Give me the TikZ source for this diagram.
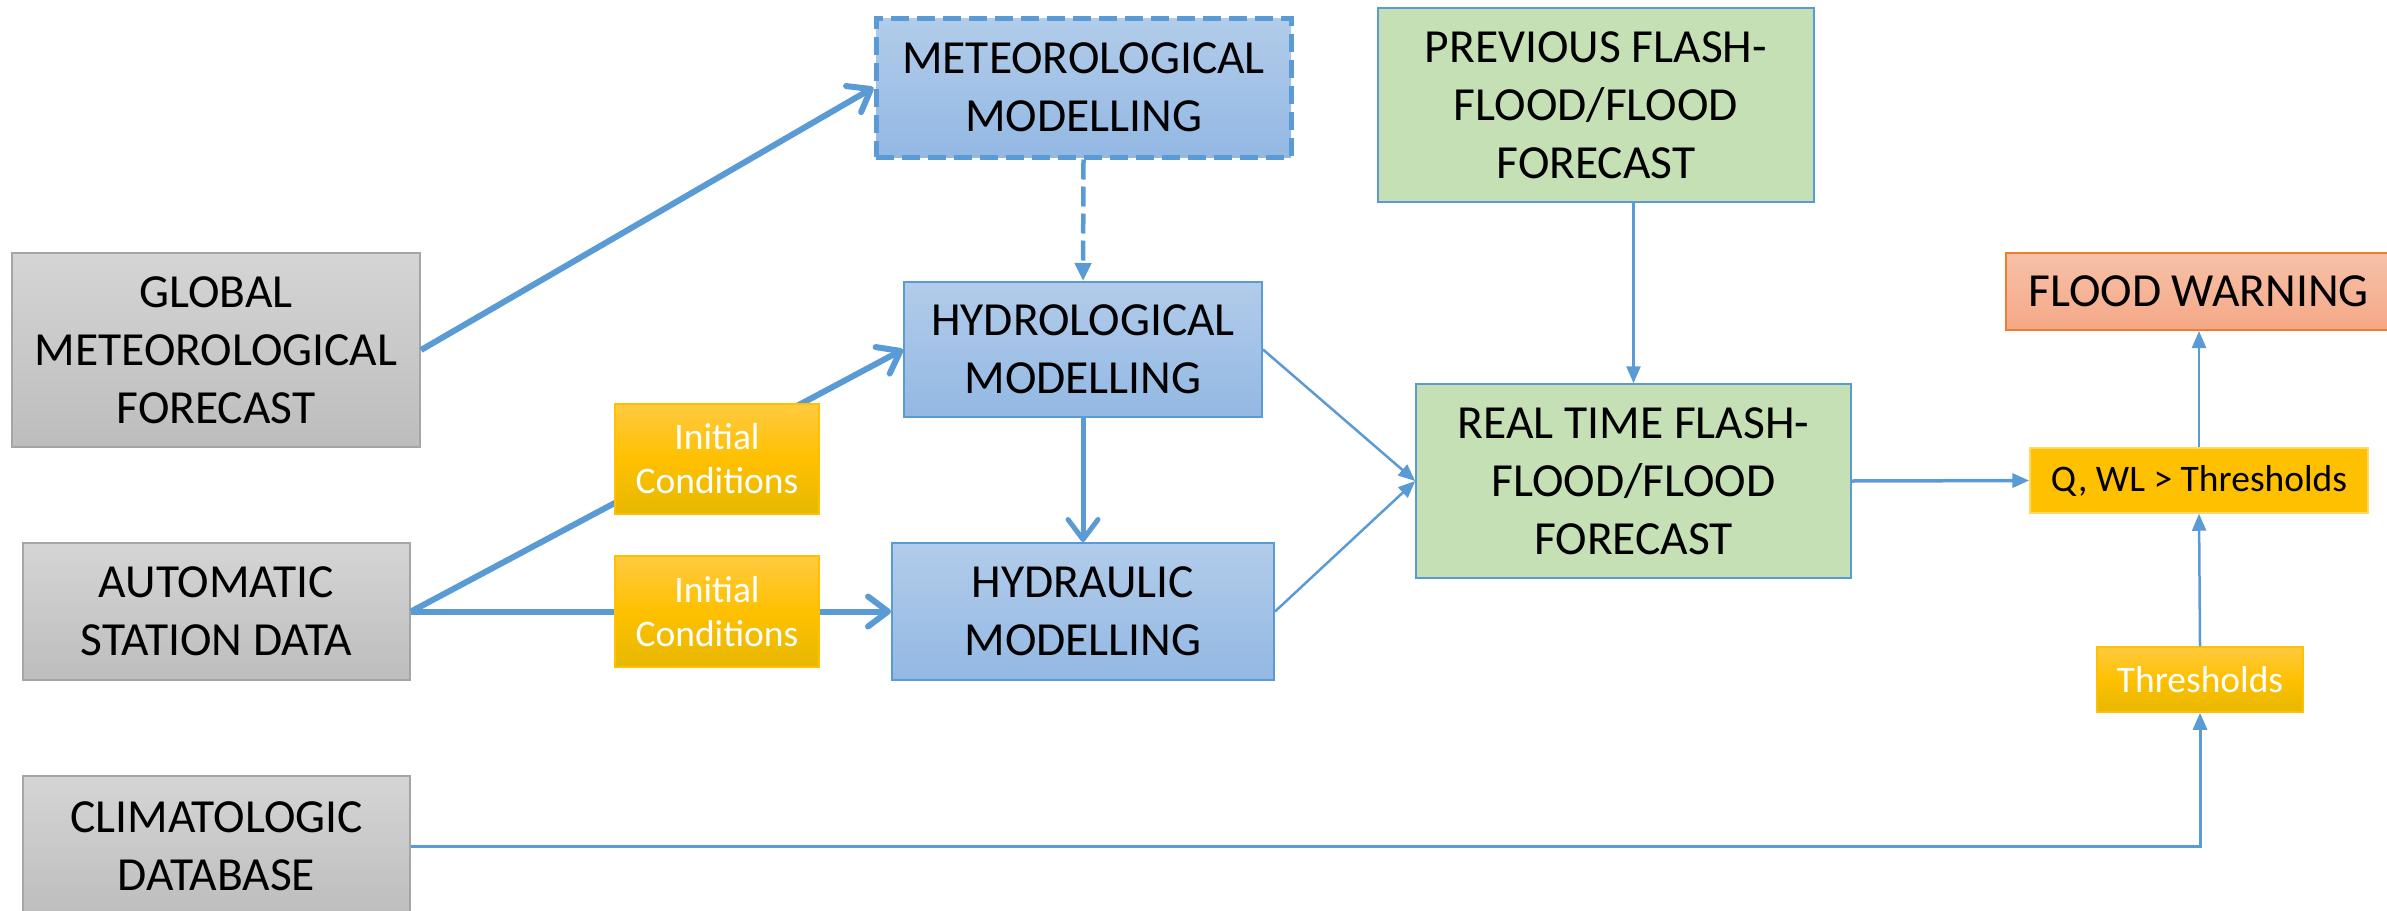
\documentclass[tikz,border=0pt]{standalone}
\usepackage{fontspec}
\setmainfont{Carlito}
\usetikzlibrary{arrows.meta,positioning,calc}
\definecolor{linkblue}{RGB}{91,155,213}
\definecolor{graytop}{RGB}{213,213,213}
\definecolor{graybot}{RGB}{189,189,189}
\definecolor{grayedge}{RGB}{165,165,165}
\definecolor{bluetop}{RGB}{178,204,234}
\definecolor{bluebot}{RGB}{147,184,227}
\definecolor{greenfill}{RGB}{197,224,180}
\definecolor{orangetop}{RGB}{247,193,167}
\definecolor{orangebot}{RGB}{244,168,135}
\definecolor{orangeedge}{RGB}{237,125,49}
\definecolor{ambertop}{RGB}{255,202,64}
\definecolor{amber}{RGB}{255,192,0}
\definecolor{amberbot}{RGB}{230,184,0}
\definecolor{amberedge}{RGB}{255,217,102}
\tikzset{
  box/.style={rectangle,align=center,inner sep=0pt,font=\fontsize{47.5}{58}\selectfont},
  srcbox/.style={box,draw=grayedge,line width=2pt,top color=graytop,bottom color=graybot},
  modbox/.style={box,draw=linkblue,line width=2pt,top color=bluetop,bottom color=bluebot},
  fcbox/.style={box,draw=linkblue,line width=1.5pt,fill=greenfill},
  condbox/.style={box,draw=amber,line width=1.5pt,top color=ambertop,bottom color=amberbot,
    middle color=amber,text=white,font=\fontsize{37.5}{44}\selectfont},
  bigarrow/.style={draw=linkblue,line width=6pt,-{Straight Barb[length=20pt,width=30pt,round]}},
  smallarrow/.style={draw=linkblue,line width=2.5pt,-{Triangle[length=17pt,width=14pt]}},
}
\begin{document}
\begin{tikzpicture}[x=1pt,y=-1pt]
\useasboundingbox (0,0) rectangle (2387,910);
\node[srcbox,minimum width=408,minimum height=194] (glob) at (216,350)
  {GLOBAL\\METEOROLOGICAL\\FORECAST};
\node[srcbox,minimum width=387,minimum height=137] (auto) at (216.5,611.5)
  {AUTOMATIC\\STATION DATA};
\node[srcbox,minimum width=387,minimum height=140] (clim) at (216.5,846)
  {CLIMATOLOGIC\\DATABASE};
\node[modbox,line width=5pt,dash pattern=on 18pt off 8pt,minimum width=415,minimum height=139]
  (met) at (1083.5,87.5) {METEOROLOGICAL\\MODELLING};
\node[modbox,minimum width=358,minimum height=135] (hydro) at (1083,349.5)
  {HYDROLOGICAL\\MODELLING};
\node[modbox,minimum width=382,minimum height=137] (hydra) at (1083,611.5)
  {HYDRAULIC\\MODELLING};
\node[fcbox,minimum width=436,minimum height=194] (prev) at (1596,105)
  {PREVIOUS FLASH-\\FLOOD/FLOOD\\FORECAST};
\node[fcbox,minimum width=435,minimum height=194] (real) at (1633.5,481)
  {REAL TIME FLASH-\\FLOOD/FLOOD\\FORECAST};
\node[box,draw=orangeedge,line width=2pt,top color=orangetop,bottom color=orangebot,
  minimum width=385,minimum height=77] (warn) at (2198.5,291.5) {FLOOD WARNING};
\node[box,draw=amberedge,line width=1.5pt,fill=amber,font=\fontsize{37.5}{44}\selectfont,
  minimum width=338,minimum height=65] (qwl) at (2199,480.5) {Q, WL > Thresholds};
\node[condbox,minimum width=206,minimum height=65] (thr) at (2200,679.5) {Thresholds};
\draw[bigarrow] (glob.east) -- (met.west);
\draw[bigarrow] (auto.east) -- (hydro.west);
\draw[bigarrow] (auto.east) -- (hydra.west);
\node[condbox,minimum width=204,minimum height=110] (ini1) at (717,459) {Initial\\Conditions};
\node[condbox,minimum width=204,minimum height=111] (ini2) at (717,611.5) {Initial\\Conditions};
\draw[bigarrow,line width=5pt] (hydro.south) -- (hydra.north);
\draw[draw=linkblue,line width=4.5pt,dash pattern=on 20pt off 7pt,
  -{Triangle[length=18pt,width=16pt]}] (met.south) -- (hydro.north);
\draw[smallarrow] (hydro.east) -- (real.west);
\draw[smallarrow] (hydra.east) -- (real.west);
\draw[smallarrow] (prev.south -| real.north) -- (real.north);
\draw[smallarrow,line width=3.5pt] (real.east) -- (qwl.west);
\draw[smallarrow] (qwl.north) -- (qwl.north |- warn.south);
\draw[smallarrow] (thr.north) -- (qwl.south);
\draw[smallarrow,line width=3pt] (clim.east) -| (thr.south);
\end{tikzpicture}
\end{document}
